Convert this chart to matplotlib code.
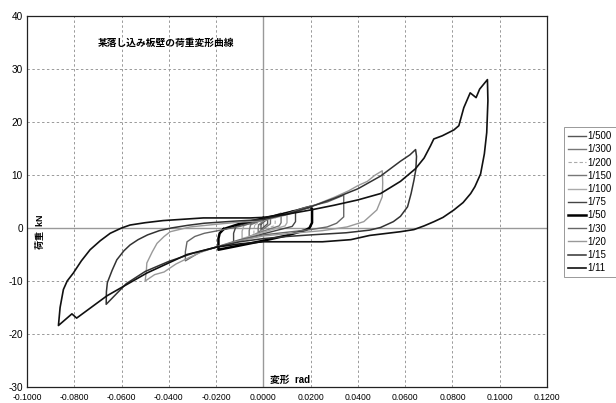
import matplotlib
matplotlib.use("Agg")
import matplotlib.pyplot as plt

plt.rcParams['font.family'] = ['Liberation Sans', 'Noto Sans CJK JP', 'DejaVu Sans']

# ---- data: (deformation rad, load kN) ----
labels = ["1/500", "1/300", "1/200", "1/150", "1/100", "1/75", "1/50", "1/30", "1/20", "1/15", "1/11"]

x_500 = [-0.0010, 0.0000, 0.0018, 0.0018, 0.0000, -0.0010, -0.0010, -0.0010]
y_500 = [0.7, 1.1, 1.7, 0.8, 0.1, -0.3, 0.2, 0.7]

x_300 = [-0.0020, 0.0000, 0.0030, 0.0030, 0.0000, -0.0022, -0.0022, -0.0020]
y_300 = [0.6, 1.3, 2.1, 0.8, -0.2, -0.8, 0.0, 0.6]

x_200 = [-0.0036, 0.0000, 0.0050, 0.0050, 0.0044, 0.0000, -0.0040, -0.0040, -0.0036]
y_200 = [0.6, 1.5, 2.4, 0.9, 0.4, -0.4, -1.2, -0.3, 0.6]

x_150 = [-0.0054, 0.0000, 0.0075, 0.0075, 0.0067, 0.0000, -0.0060, -0.0060, -0.0054]
y_150 = [0.6, 1.6, 2.8, 1.0, 0.4, -0.6, -1.6, -0.5, 0.6]

x_100 = [-0.0082, 0.0000, 0.0100, 0.0100, 0.0092, 0.0000, -0.0090, -0.0090, -0.0082]
y_100 = [0.5, 1.7, 3.0, 1.0, 0.4, -0.8, -2.0, -0.6, 0.5]

x_75 = [-0.0116, 0.0000, 0.0130, 0.0136, 0.0136, 0.0122, 0.0000, -0.0126, -0.0126, -0.0116]
y_75 = [0.3, 1.7, 3.3, 3.2, 1.2, 0.3, -1.1, -2.7, -1.0, 0.3]

x_50 = [-0.0168, -0.0100, 0.0000, 0.0100, 0.0199, 0.0206, 0.0206, 0.0195, 0.0178,
        0.0100, 0.0000, -0.0100, -0.0190, -0.0190, -0.0185, -0.0168]
y_50 = [-0.2, 0.8, 1.8, 2.8, 4.0, 3.6, 1.0, 0.0, -0.4,
        -1.4, -2.4, -3.3, -4.1, -2.0, -1.0, -0.2]

x_30 = [0.000, 0.010, 0.017, 0.027, 0.034, 0.034, 0.034, 0.031, 0.027, 0.020, 0.010,
        0.000, -0.010, -0.020, -0.027, -0.033, -0.033, -0.0323, -0.029, -0.025, -0.018,
        -0.010, 0.000]
y_30 = [1.5, 2.7, 3.8, 4.9, 6.2, 4.0, 2.1, 0.9, 0.2, -0.3, -0.8,
        -1.3, -2.2, -3.6, -4.6, -6.2, -4.5, -2.6, -1.6, -1.0, -0.4,
        0.3, 1.5]

x_20 = [0.000, 0.010, 0.020, 0.030, 0.036, 0.040, 0.044, 0.047, 0.0503, 0.0505, 0.0503,
        0.048, 0.0425, 0.0354, 0.025, 0.012, 0.000, -0.010, -0.020, -0.026, -0.032,
        -0.037, -0.042, -0.046, -0.050, -0.0495, -0.0493, -0.047, -0.045, -0.042, -0.0394,
        -0.031, -0.020, -0.010, 0.000]
y_20 = [1.4, 2.5, 4.0, 5.8, 7.0, 8.0, 8.8, 9.9, 10.8, 8.5, 5.9,
        3.4, 1.2, 0.2, -0.5, -1.0, -1.5, -2.4, -3.6, -4.5, -5.7,
        -6.8, -8.3, -8.8, -10.0, -8.0, -6.6, -4.5, -2.9, -1.6, -0.7,
        0.2, 0.7, 1.1, 1.4]

x_15 = [0.000, 0.010, 0.020, 0.030, 0.040, 0.0496, 0.058, 0.062, 0.0644, 0.0648, 0.0645,
        0.0637, 0.0625, 0.061, 0.058, 0.055, 0.0496, 0.045, 0.035, 0.020, 0.010, 0.000,
        -0.010, -0.020, -0.030, -0.040, -0.050, -0.058, -0.0665, -0.0664, -0.066, -0.064,
        -0.062, -0.059, -0.0564, -0.053, -0.049, -0.044, -0.039, -0.032, -0.025, -0.012, 0.000]
y_15 = [1.6, 2.6, 4.0, 5.6, 7.4, 9.8, 12.6, 13.8, 14.8, 13.5, 11.0,
        9.0, 6.5, 4.0, 2.2, 1.2, 0.1, -0.4, -0.9, -1.3, -1.6, -2.0,
        -2.6, -3.6, -4.8, -6.3, -8.2, -10.5, -14.4, -12.0, -10.3, -8.0,
        -6.0, -4.3, -3.2, -2.2, -1.3, -0.5, 0.0, 0.5, 0.9, 1.3, 1.6]

x_11 = [0.000, 0.010, 0.020, 0.030, 0.040, 0.0496, 0.058, 0.0644, 0.0680, 0.0707, 0.0721,
        0.0757, 0.0806, 0.0827, 0.0848, 0.0875, 0.0900, 0.0915, 0.0948, 0.0950, 0.0945,
        0.0935, 0.0919, 0.0895, 0.0877, 0.0845, 0.0806, 0.0760, 0.0722, 0.0680, 0.0637,
        0.058, 0.045, 0.037, 0.025, 0.010, 0.000, -0.010, -0.0196, -0.0323, -0.0493,
        -0.0662, -0.0790, -0.0810, -0.0867, -0.0860, -0.0846, -0.0830, -0.0804, -0.0770,
        -0.0733, -0.0690, -0.0648, -0.0600, -0.0564, -0.0500, -0.0424, -0.0254, -0.0055,
        0.000]
y_11 = [2.0, 2.6, 3.4, 4.3, 5.3, 6.5, 8.8, 11.2, 13.2, 15.5, 16.8,
        17.4, 18.5, 19.3, 22.7, 25.5, 24.6, 26.2, 28.0, 24.0, 18.0,
        14.0, 10.2, 7.8, 6.5, 4.8, 3.4, 2.0, 1.2, 0.4, -0.3,
        -0.7, -1.4, -2.2, -2.6, -2.6, -2.6, -3.0, -3.6, -5.0, -8.5,
        -12.8, -17.0, -16.2, -18.4, -15.0, -11.6, -10.0, -8.5, -6.2,
        -4.1, -2.4, -1.0, 0.0, 0.56, 1.0, 1.4, 1.9, 1.9,
        2.0]

series_x = [x_500, x_300, x_200, x_150, x_100, x_75, x_50, x_30, x_20, x_15, x_11]
series_y = [y_500, y_300, y_200, y_150, y_100, y_75, y_50, y_30, y_20, y_15, y_11]

colors = ['#555555', '#777777', '#aaaaaa', '#777777', '#aaaaaa', '#444444',
          '#000000', '#666666', '#999999', '#333333', '#111111']
widths = [1.0, 1.0, 0.8, 1.0, 1.0, 1.0, 1.8, 1.0, 1.0, 1.1, 1.2]
styles = ['-', '-', (0, (3, 2)), '-', '-', '-', '-', '-', '-', '-', '-']

x_ticks = [-0.10, -0.08, -0.06, -0.04, -0.02, 0.00, 0.02, 0.04, 0.06, 0.08, 0.10, 0.12]
y_ticks = [-30, -20, -10, 0, 10, 20, 30, 40]

title_text = "某落し込み板壁の荷重変形曲線"
x_label = "変形  rad"
y_label = "荷重  kN"

# ---- figure ----
fig = plt.figure(figsize=(6.16, 4.03), dpi=100)
ax = fig.add_axes([27/616, 1 - 387/403, 520/616, 371/403])

ax.set_xlim(-0.10, 0.12)
ax.set_ylim(-30, 40)
ax.set_xticks(x_ticks)
ax.set_yticks(y_ticks)
ax.set_xticklabels([f"{t:.4f}" for t in x_ticks], fontsize=6.2)
ax.set_yticklabels([str(t) for t in y_ticks], fontsize=7.2)
ax.tick_params(axis='x', length=0, pad=4.5)
ax.tick_params(axis='y', length=0, pad=3)
ax.grid(True, linestyle=(0, (2.5, 2.5)), color='#999999', linewidth=0.7)
ax.axhline(0, color='#999999', linewidth=1.0, zorder=1)
ax.axvline(0, color='#999999', linewidth=1.0, zorder=1)
for s in ax.spines.values():
    s.set_linewidth(0.9)
    s.set_color('#222222')

for xs, ys, lab, c, w, st in zip(series_x, series_y, labels, colors, widths, styles):
    ax.plot(xs, ys, color=c, linewidth=w, linestyle=st, label=lab, zorder=3)

ax.text(-0.0700, 34.9, title_text, fontsize=7, va='center', ha='left', fontweight='bold')
ax.text(0.0030, -28.6, x_label, fontsize=7, va='center', ha='left', fontweight='bold')
ax.text(-0.0942, -0.8, y_label, fontsize=6.5, va='center', ha='center', rotation=90,
        fontweight='bold')

leg = ax.legend(loc='upper left', bbox_to_anchor=(1.033, 0.70), fontsize=7,
                frameon=True, fancybox=False, edgecolor='#999999', framealpha=1,
                handlelength=1.8, handletextpad=0.2, labelspacing=0.33,
                borderpad=0.4, borderaxespad=0)
leg.get_frame().set_linewidth(0.7)

fig.savefig("out.png", dpi=100)
